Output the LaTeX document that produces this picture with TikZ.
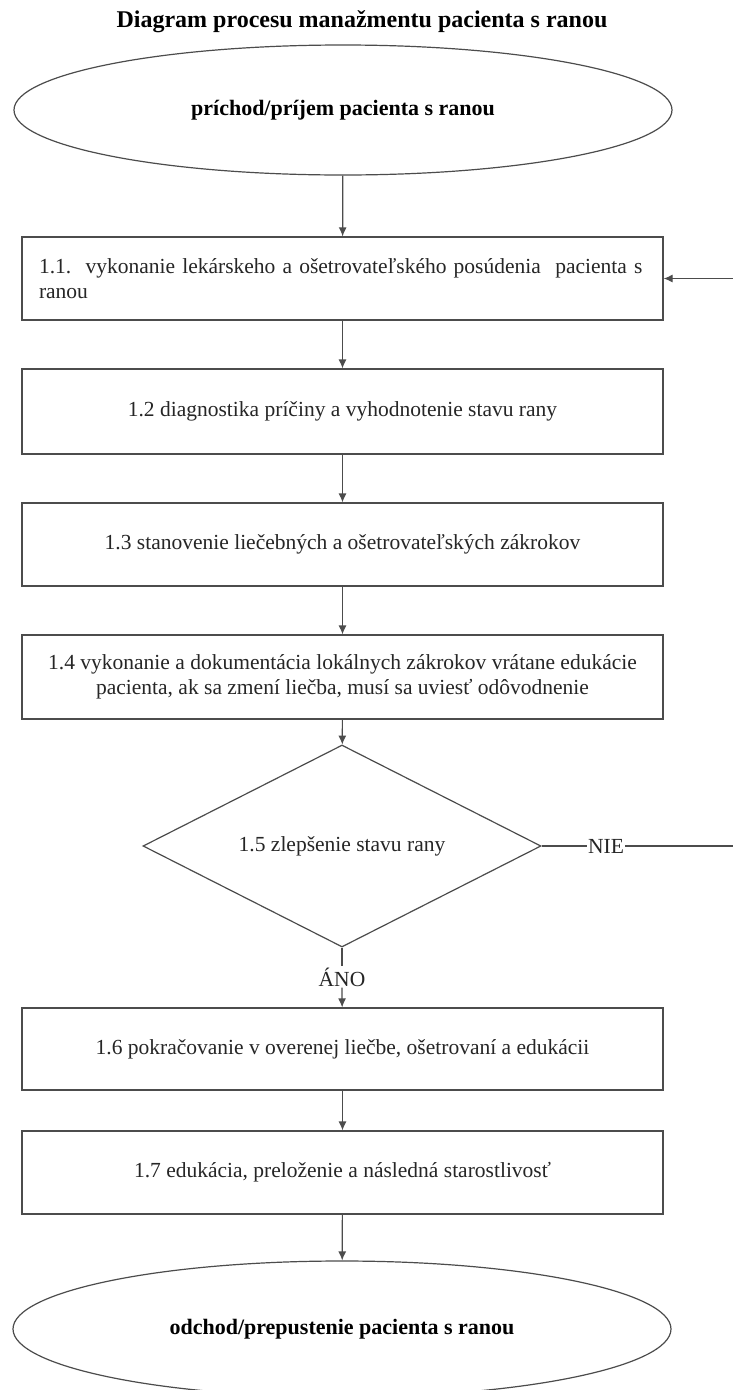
\documentclass[tikz,border=0pt]{standalone}
\usepackage{fontspec}
\setmainfont{Liberation Serif}
\usetikzlibrary{shapes.geometric,arrows.meta}
\begin{document}
\begin{tikzpicture}[x=1pt,y=-1pt,
  line/.style={draw=black!70,line width=1.2pt},
  arr/.style={line,-{Latex[length=9pt,width=8pt]}},
  box/.style={line,rectangle,minimum width=641pt,inner sep=0pt,font=\fontsize{21.5}{25}\selectfont,text=black!85,align=center},
  oval/.style={line,ellipse,minimum width=658pt,inner sep=0pt,font=\fontsize{22}{26}\selectfont\bfseries},
  lbl/.style={fill=white,inner sep=1pt,font=\fontsize{21.5}{25}\selectfont,text=black!85}]
\useasboundingbox[fill=white] (0,0) rectangle (732,1390);
\node[font=\fontsize{24}{28}\selectfont\bfseries] (title) at (362,22) {Diagram procesu manažmentu pacienta s ranou};
\node[oval,minimum height=130pt] (start) at (343,110) {príchod/príjem pacienta s ranou};
\node[box,minimum height=83pt,align=left,text width=607pt] (b1) at (342.5,278.5) {1.1.\ \ vykonanie lekárskeho a ošetrovateľského posúdenia\ \ pacienta s\\ranou};
\node[box,minimum height=85pt] (b2) at (342.5,411.5) {1.2 diagnostika príčiny a vyhodnotenie stavu rany};
\node[box,minimum height=83pt] (b3) at (342.5,544.5) {1.3 stanovenie liečebných a ošetrovateľských zákrokov};
\node[box,minimum height=84pt] (b4) at (342.5,677) {1.4 vykonanie a dokumentácia lokálnych zákrokov vrátane edukácie\\pacienta, ak sa zmení liečba, musí sa uviesť odôvodnenie};
\node[line,diamond,shape aspect=2,minimum width=398pt,minimum height=202pt,inner sep=0pt,font=\fontsize{21.5}{25}\selectfont,text=black!85] (d) at (342,846) {1.5 zlepšenie stavu rany};
\node[lbl] (nie) at (606,846) {NIE};
\node[lbl] (ano) at (342,977) {ÁNO};
\node[box,minimum height=82pt] (b5) at (342.5,1049) {1.6 pokračovanie v overenej liečbe, ošetrovaní a edukácii};
\node[box,minimum height=83pt] (b6) at (342.5,1172.5) {1.7 edukácia, preloženie a následná starostlivosť};
\node[oval,minimum height=136pt] (end) at (342,1329) {odchod/prepustenie pacienta s ranou};
\coordinate (fr) at (750,846);
\coordinate (ft) at (750,278.5);
\draw[arr] (start) -- (b1);
\draw[arr] (b1) -- (b2);
\draw[arr] (b2) -- (b3);
\draw[arr] (b3) -- (b4);
\draw[arr] (b4) -- (d);
\draw[line] (d.south) -- (ano.north);
\draw[arr] (ano.south) -- (b5);
\draw[arr] (b5) -- (b6);
\draw[arr] (b6) -- (end);
\draw[line] (d.east) -- (nie.west);
\draw[arr] (nie.east) -- (fr) -- (ft) -- (b1.east);
\end{tikzpicture}
\end{document}
